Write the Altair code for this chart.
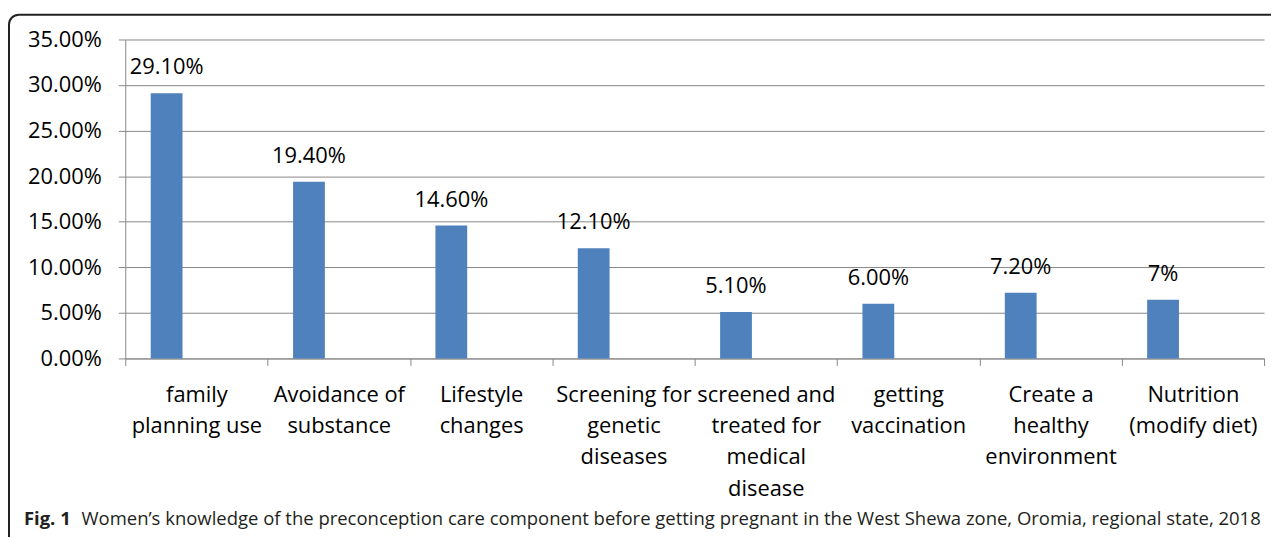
import altair as alt
import pandas as pd

# ---- data ----
categories = [
    "family\nplanning use",
    "Avoidance of\nsubstance",
    "Lifestyle\nchanges",
    "Screening for\ngenetic\ndiseases",
    "screened and\ntreated for\nmedical\ndisease",
    "getting\nvaccination",
    "Create a\nhealthy\nenvironment",
    "Nutrition\n(modify diet)",
]
values = [0.291, 0.194, 0.146, 0.121, 0.051, 0.060, 0.072, 0.0645]
value_labels = ["29.10%", "19.40%", "14.60%", "12.10%", "5.10%", "6.00%", "7.20%", "7%"]
y_ticks = [0, 0.05, 0.10, 0.15, 0.20, 0.25, 0.30, 0.35]
caption_bold = ["Fig. 1"]
caption_rest = ["Women\u2019s knowledge of the preconception care component before getting pregnant in the West Shewa zone, Oromia, regional state, 2018"]

df = pd.DataFrame({"cat": categories, "value": values, "lab": value_labels})

FONT = "Open Sans"
GRID = "#878787"
W, H = 1146, 321

base = alt.Chart(df).encode(
    x=alt.X(
        "cat:N",
        sort=None,
        scale=alt.Scale(paddingInner=0, paddingOuter=0),
        axis=alt.Axis(
            title=None,
            labelAngle=0,
            tickBand="extent",
            labelExpr="split(datum.label, '\\n')",
            labelFont=FONT,
            labelFontSize=22,
            labelColor="#000000",
            labelLineHeight=31.5,
            labelBaseline="alphabetic",
            labelPadding=36,
            labelOverlap=False,
            labelBound=False,
            labelLimit=0,
            tickSize=7,
            tickColor=GRID,
            domainColor=GRID,
            grid=False,
        ),
    ),
    y=alt.Y(
        "value:Q",
        scale=alt.Scale(domain=[0, 0.35], nice=False, zero=True),
        axis=alt.Axis(
            title=None,
            format=".2%",
            values=y_ticks,
            labelFont=FONT,
            labelFontSize=22,
            labelColor="#000000",
            labelPadding=17,
            tickSize=7,
            tickColor=GRID,
            domainColor=GRID,
            gridColor=GRID,
        ),
    ),
)

bars = base.mark_bar(width=32, xOffset=-30, color="#4f81bd")
texts = base.mark_text(
    xOffset=-30, dy=-19, baseline="alphabetic", font=FONT, fontSize=22, color="#000000"
).encode(text="lab:N")

frame = alt.Chart(pd.DataFrame({"k": [0]})).mark_rect(
    filled=False, stroke="#222222", strokeWidth=2, cornerRadius=10
).encode(
    x=alt.value(-117), x2=alt.value(1400), y=alt.value(-25), y2=alt.value(700)
)

cap1 = alt.Chart(pd.DataFrame({"t": caption_bold})).mark_text(
    align="left", baseline="alphabetic", font=FONT, fontSize=18.6, fontWeight="bold", color="#231f20"
).encode(text="t:N", x=alt.value(-102), y=alt.value(489))

cap2 = alt.Chart(pd.DataFrame({"t": caption_rest})).mark_text(
    align="left", baseline="alphabetic", font=FONT, fontSize=18.6, color="#231f20"
).encode(text="t:N", x=alt.value(-44), y=alt.value(489))

chart = (
    alt.layer(frame, bars, texts, cap1, cap2)
    .properties(
        width=W,
        height=H,
        autosize=alt.AutoSizeParams(type="none"),
        padding={"left": 118, "top": 30, "right": 7, "bottom": 178},
        background="white",
    )
    .configure_view(stroke=None)
)

chart.save("out.html", embed_options={"renderer": "svg", "actions": False})
